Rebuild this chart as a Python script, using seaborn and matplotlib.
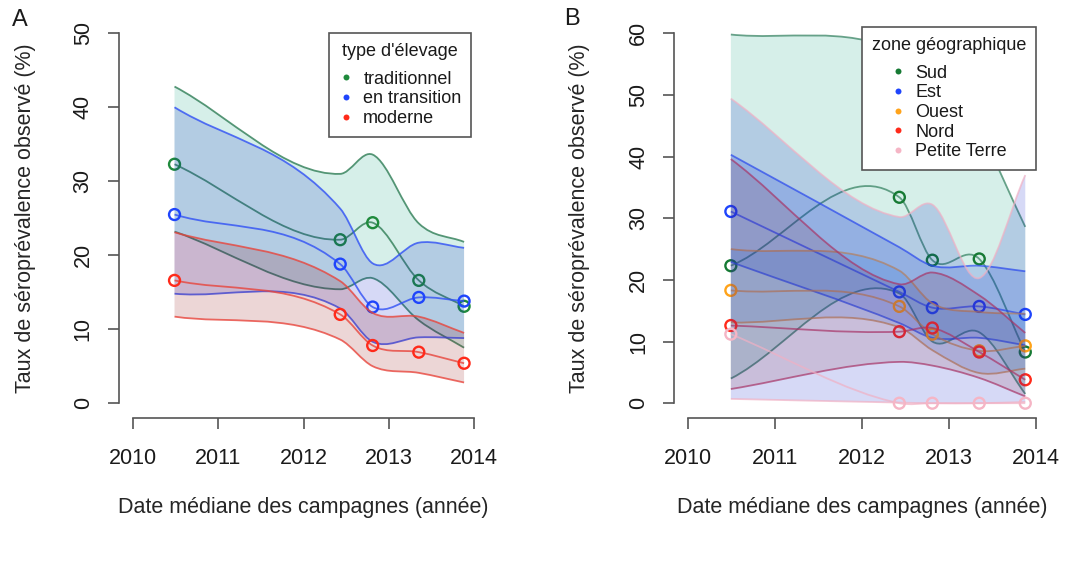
import numpy as np
import matplotlib
matplotlib.use("Agg")
import matplotlib.pyplot as plt
import seaborn as sns
from matplotlib.path import Path
from matplotlib.patches import PathPatch
from matplotlib.lines import Line2D

# ---------------- data ----------------
years = [2010.49, 2012.43, 2012.81, 2013.35, 2013.88]

# Panel A : type d'élevage
A_labels = ["traditionnel", "en transition", "moderne"]
trad_mean = [32.3, 22.1, 24.4, 16.6, 13.1]
trad_low = [23.2, 15.4, 16.9, 11.2, 7.5]
trad_high = [42.8, 31.0, 33.6, 24.3, 21.8]
trans_mean = [25.5, 18.8, 13.0, 14.3, 13.8]
trans_low = [14.8, 12.8, 8.3, 8.9, 8.8]
trans_high = [40.0, 26.3, 18.9, 21.7, 21.0]
mod_mean = [16.6, 12.0, 7.8, 6.9, 5.4]
mod_low = [11.7, 8.6, 5.0, 4.1, 2.8]
mod_high = [23.1, 16.5, 12.2, 11.7, 9.5]

# Panel B : zone géographique
B_labels = ["Sud", "Est", "Ouest", "Nord", "Petite Terre"]
sud_mean = [22.3, 33.4, 23.2, 23.4, 8.3]
sud_low = [4.0, 17.8, 10.0, 11.5, 1.5]
sud_high = [59.8, 57.0, 52.5, 44.0, 28.6]
est_mean = [31.1, 18.05, 15.5, 15.7, 14.4]
est_low = [22.9, 13.0, 10.6, 10.6, 9.4]
est_high = [40.3, 25.3, 22.3, 22.3, 21.4]
ouest_mean = [18.3, 15.7, 11.2, 8.5, 9.3]
ouest_low = [13.1, 12.3, 8.6, 4.9, 5.6]
ouest_high = [25.0, 21.5, 16.2, 14.8, 14.5]
nord_mean = [12.6, 11.6, 12.2, 8.3, 3.8]
nord_low = [2.3, 6.7, 6.1, 4.1, 1.1]
nord_high = [39.6, 19.3, 21.2, 17.5, 11.4]
pt_mean = [11.2, 0.0, 0.0, 0.0, 0.0]
pt_low = [0.7, 0.1, 0.0, 0.0, 0.2]
pt_high = [49.4, 30.2, 32.2, 20.3, 37.0]

# ---------------- styles ----------------
A_point = ["#1f8a3c", "#1f45fc", "#ff2a1a"]
A_line = ["#2e7d55", "#3050f5", "#e8453c"]
A_fill = ["#00a07a", "#0018c8", "#8c0005"]
A_alpha = [0.16, 0.16, 0.16]

B_point = ["#167a34", "#1f45fc", "#ffa31a", "#ff2a1a", "#f5b5c5"]
B_line = ["#2e7d5b", "#3050f5", "#d8944a", "#c83a55", "#f0b0c4"]
B_fill = ["#00a07a", "#0030e0", "#1e78e0", "#8c0005", "#0018c8"]
B_alpha = [0.16, 0.17, 0.16, 0.13, 0.16]

sns.set_theme(style="white")
plt.rcParams["font.family"] = ["Liberation Sans", "DejaVu Sans"]
plt.rcParams["text.color"] = "#1a1a1a"


def hermite_slopes(x, y):
    """Three-point finite-difference tangents (one-sided at the ends)."""
    x = np.asarray(x, float)
    y = np.asarray(y, float)
    sec = np.diff(y) / np.diff(x)
    m = np.empty(len(x))
    m[0] = sec[0]
    m[-1] = sec[-1]
    m[1:-1] = 0.5 * (sec[:-1] + sec[1:])
    return m


def bezier_curve(x, y):
    m = hermite_slopes(x, y)
    verts = [(x[0], y[0])]
    codes = [Path.MOVETO]
    for i in range(len(x) - 1):
        h = x[i + 1] - x[i]
        verts += [(x[i] + h / 3, y[i] + m[i] * h / 3),
                  (x[i + 1] - h / 3, y[i + 1] - m[i + 1] * h / 3),
                  (x[i + 1], y[i + 1])]
        codes += [Path.CURVE4] * 3
    return verts, codes


def band_path(x, lo, hi):
    uv, uc = bezier_curve(x, hi)
    lv, lc = bezier_curve(x, lo)
    lv = lv[::-1]
    verts = uv + lv + [uv[0]]
    codes = uc + [Path.LINETO] + [Path.CURVE4] * (len(lv) - 1) + [Path.CLOSEPOLY]
    return Path(verts, codes)


def draw_group(ax, k, mean, lo, hi, pc, lc, fc, falpha, lalpha):
    z = 10 * (k + 1)
    ax.add_patch(PathPatch(band_path(years, lo, hi), facecolor=fc, alpha=falpha,
                           edgecolor="none", zorder=z))
    for series in (hi, lo, mean):
        v, c = bezier_curve(years, series)
        ax.add_patch(PathPatch(Path(v, c), facecolor="none", edgecolor=lc,
                               lw=1.3, alpha=lalpha, zorder=z + 1))
    sns.scatterplot(x=years, y=mean, ax=ax, s=62, color=pc, zorder=z + 2,
                    linewidth=1.7, legend=False)
    coll = ax.collections[-1]
    coll.set_facecolor("none")
    coll.set_edgecolor(pc)


def style_axis(ax, ymax, ytick_step):
    ax.set_xlim(2010 - 0.16, 2014 + 0.16)
    ax.set_ylim(-0.04 * ymax, ymax * 1.04)
    ax.set_xticks([2010, 2011, 2012, 2013, 2014])
    ax.set_yticks(np.arange(0, ymax + 1, ytick_step))
    for s in ("top", "right"):
        ax.spines[s].set_visible(False)
    for s in ("left", "bottom"):
        ax.spines[s].set_color("#555555")
        ax.spines[s].set_linewidth(1.2)
    ax.spines["left"].set_bounds(0, ymax)
    ax.spines["bottom"].set_bounds(2010, 2014)
    ax.tick_params(axis="both", direction="out", length=7.7, width=1.2,
                   color="#555555", labelsize=15.5, labelcolor="#1a1a1a",
                   left=True, bottom=True)
    ax.tick_params(axis="x", pad=14)
    ax.tick_params(axis="y", pad=10.5)
    for lbl in ax.get_yticklabels():
        lbl.set_rotation(90)
        lbl.set_va("center")
        lbl.set_ha("right")
    ax.set_facecolor("white")
    ax.grid(False)
    ax.set_xlabel("Date médiane des campagnes (année)", fontsize=15.5, va="center")
    ax.set_ylabel("Taux de séroprévalence observé (%)", fontsize=15.5, va="center")


fig = plt.figure(figsize=(10.73, 5.71), dpi=100)
fig.patch.set_facecolor("white")
axA = fig.add_axes([119 / 1073, 1 - 418 / 571, 369 / 1073, 399.5 / 571])
axB = fig.add_axes([674.4 / 1073, 1 - 418 / 571, 375.2 / 1073, 399.5 / 571])

A_data = [(trad_mean, trad_low, trad_high),
          (trans_mean, trans_low, trans_high),
          (mod_mean, mod_low, mod_high)]
for k, (mn, lo, hi) in enumerate(A_data):
    draw_group(axA, k, mn, lo, hi, A_point[k], A_line[k], A_fill[k], A_alpha[k], 0.8)

B_data = [(sud_mean, sud_low, sud_high),
          (est_mean, est_low, est_high),
          (ouest_mean, ouest_low, ouest_high),
          (nord_mean, nord_low, nord_high),
          (pt_mean, pt_low, pt_high)]
for k, (mn, lo, hi) in enumerate(B_data):
    draw_group(axB, k, mn, lo, hi, B_point[k], B_line[k], B_fill[k], B_alpha[k], 0.7)

style_axis(axA, 50, 10)
style_axis(axB, 60, 10)
axA.xaxis.set_label_coords(0.5, -90 / 399.5)
axB.xaxis.set_label_coords(0.5, -90 / 399.5)
axA.yaxis.set_label_coords(-93 / 369, 0.5)
axB.yaxis.set_label_coords(-95 / 375.2, 0.5)


def make_legend(ax, labels, colors, title, anchor):
    handles = [Line2D([], [], ls="", marker="o", markersize=4.3, color=c,
                      markeredgewidth=0) for c in colors]
    leg = ax.legend(handles, labels, title=title, loc="upper left",
                    bbox_to_anchor=anchor, fontsize=13, title_fontsize=13,
                    frameon=True, fancybox=False, framealpha=1,
                    edgecolor="#555555", handlelength=0.8, handletextpad=0.55,
                    labelspacing=0.15, borderpad=0.55, borderaxespad=0)
    leg.get_frame().set_linewidth(1.2)
    leg._legend_box.sep = 7.5
    leg.set_zorder(200)
    return leg


make_legend(axA, A_labels, A_point, "type d'élevage", (0.569, 0.963))
make_legend(axB, B_labels, B_point, "zone géographique", (0.499, 0.978))

fig.text(20 / 1073, 1 - 20 / 571, "A", fontsize=17, ha="center", va="center")
fig.text(572 / 1073, 1 - 19 / 571, "B", fontsize=17, ha="center", va="center")

fig.savefig("out.png", dpi=100, facecolor="white")
